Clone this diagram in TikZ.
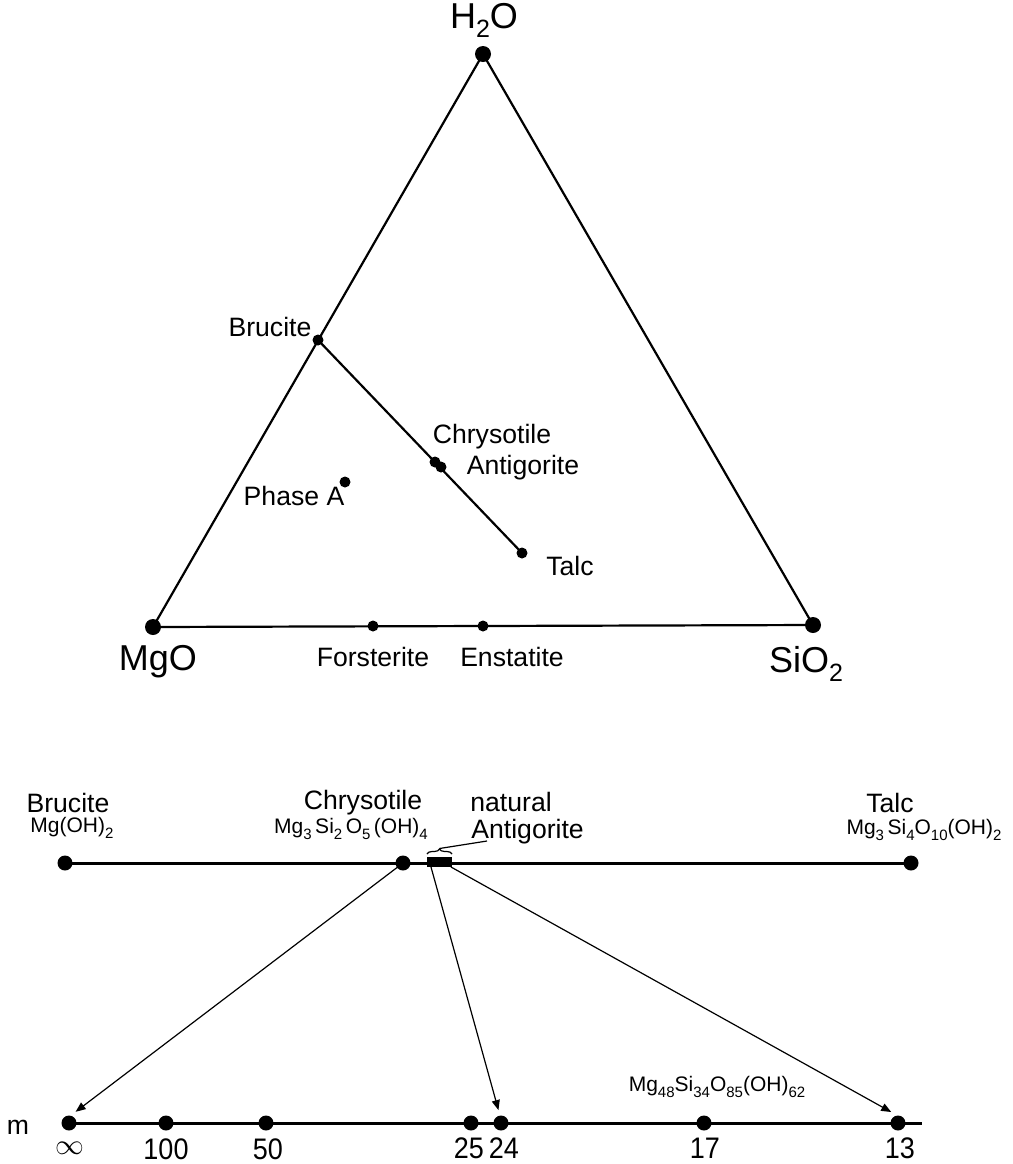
\documentclass[tikz,border=0pt]{standalone}
\usepackage{graphicx}
\usepackage{fontspec}
\setmainfont{Liberation Sans}
\usetikzlibrary{arrows.meta,decorations.pathreplacing}
\newcommand\sbf[1]{\raisebox{-0.3em}{\fontsize{7.5}{8}\selectfont #1}}
\newcommand\sbg[1]{\raisebox{-0.25em}{\fontsize{12.5}{13}\selectfont #1}}
\newcommand\tall[1]{\scalebox{1}[1.1]{#1}}
\begin{document}
\begin{tikzpicture}[x=0.5pt,y=-0.5pt,
  bigdot/.style={circle,fill=black,inner sep=0pt,minimum size=8pt},
  smalldot/.style={circle,fill=black,inner sep=0pt,minimum size=5.5pt},
  mdot/.style={circle,fill=black,inner sep=0pt,minimum size=7.5pt},
  lbl/.style={font=\fontsize{13.3}{15}\selectfont,inner sep=0pt},
  numlbl/.style={font=\fontsize{13.5}{15}\selectfont,inner sep=0pt},
  biglbl/.style={font=\fontsize{18}{20}\selectfont,inner sep=0pt},
  frm/.style={font=\fontsize{10.5}{12}\selectfont,inner sep=0pt},
  edge/.style={line width=1.1pt},
  thick line/.style={line width=1.5pt},
  arr/.style={line width=0.6pt,-{Triangle[length=5pt,width=4pt]},shorten >=1pt}]
\useasboundingbox (0,0) rectangle (1013,1164);
% triangle
\node[bigdot] (h2o) at (483,54) {};
\node[bigdot] (mgo) at (153,627) {};
\node[bigdot] (sio2) at (813,625) {};
\draw[edge] (mgo.center) -- (h2o.center) -- (sio2.center) -- (mgo.center);
\node[smalldot] (bru) at (318,340) {};
\node[smalldot] (talc) at (522,553) {};
\node[smalldot] (chry) at (435,462) {};
\node[smalldot] (anti) at (441,467) {};
\node[smalldot] (phA) at (345,482) {};
\node[smalldot] (fors) at (373,626) {};
\node[smalldot] (enst) at (483,626) {};
\draw[edge] (bru.center) -- (talc.center);
\node[biglbl] (th2o) at (484,20) {H\sbg{2}O};
\node[biglbl] (tmgo) at (158,662) {MgO};
\node[biglbl] (tsio2) at (806,664) {SiO\sbg{2}};
\node[lbl] (tfors) at (373,657) {Forsterite};
\node[lbl] (tenst) at (512,657) {Enstatite};
\node[lbl] (tbru) at (270,327) {Brucite};
\node[lbl] (tchry) at (492,437) {Chrysotile};
\node[lbl] (tanti) at (523,468) {Antigorite};
\node[lbl] (tphA) at (294,496) {Phase A};
\node[lbl] (ttalc) at (570,566) {Talc};
% middle line
\node[mdot] (bbru) at (65,863) {};
\node[mdot] (bchry) at (403,863) {};
\node[mdot] (btalc) at (911,863) {};
\draw[thick line] (bbru.center) -- (btalc.center);
\node[fill=black,inner sep=0pt,minimum width=12.5pt,minimum height=5pt] (bar) at (439.5,862) {};
\coordinate (bl) at (427,854);
\coordinate (br) at (452,854);
\draw[line width=0.6pt,decoration={brace,amplitude=2.5pt},decorate] (bl) -- (br);
\coordinate (btip) at (439.5,848.5);
\coordinate (lead) at (487,841);
\draw[line width=0.6pt] (btip) -- (lead);
\node[lbl] (bbrut) at (68,803) {Brucite};
\node[frm] (bbruf) at (72,828) {Mg(OH)\sbf{2}};
\node[lbl] (bchryt) at (363,803) {Chrysotile};
\node[frm] (bchryf) at (351,829) {Mg\sbf{3}\,Si\sbf{2}\,O\sbf{5}\,(OH)\sbf{4}};
\node[lbl,anchor=west] (nat) at (470,802) {natural};
\node[lbl,anchor=west] (bantit) at (471,832) {Antigorite};
\node[lbl] (btalct) at (890,803) {Talc};
\node[frm] (btalcf) at (924,830) {Mg\sbf{3}\,Si\sbf{4}O\sbf{10}(OH)\sbf{2}};
% bottom line
\node[mdot] (minf) at (69,1123) {};
\node[mdot] (m100) at (166,1123) {};
\node[mdot] (m50) at (266,1123) {};
\node[mdot] (m25) at (471,1123) {};
\node[mdot] (m24) at (501,1123) {};
\node[mdot] (m17) at (704,1123) {};
\node[mdot] (m13) at (898,1123) {};
\coordinate (bend) at (922,1123);
\draw[thick line] (minf.center) -- (bend);
\node[lbl] (tm) at (18,1127) {m};
\node[font=\fontsize{15}{15}\selectfont,inner sep=0pt] (tinf) at (70,1148) {$\infty$};
\node[numlbl] (t100) at (166,1149) {\tall{100}};
\node[numlbl] (t50) at (268,1149) {\tall{50}};
\node[numlbl] (t25) at (469,1148) {\tall{25}};
\node[numlbl] (t24) at (504,1148) {\tall{24}};
\node[numlbl] (t17) at (705,1148) {\tall{17}};
\node[numlbl] (t13) at (900,1148) {\tall{13}};
\node[frm] (tform) at (717,1087) {Mg\sbf{48}Si\sbf{34}O\sbf{85}(OH)\sbf{62}};
% arrows
\coordinate (ainf) at (74,1113);
\coordinate (a24) at (499,1112);
\coordinate (a13) at (893,1113);
\coordinate (s24) at (431,867);
\coordinate (s13) at (451,867);
\draw[arr] (bchry.center) -- (ainf);
\draw[arr] (s24) -- (a24);
\draw[arr] (s13) -- (a13);
\end{tikzpicture}
\end{document}
